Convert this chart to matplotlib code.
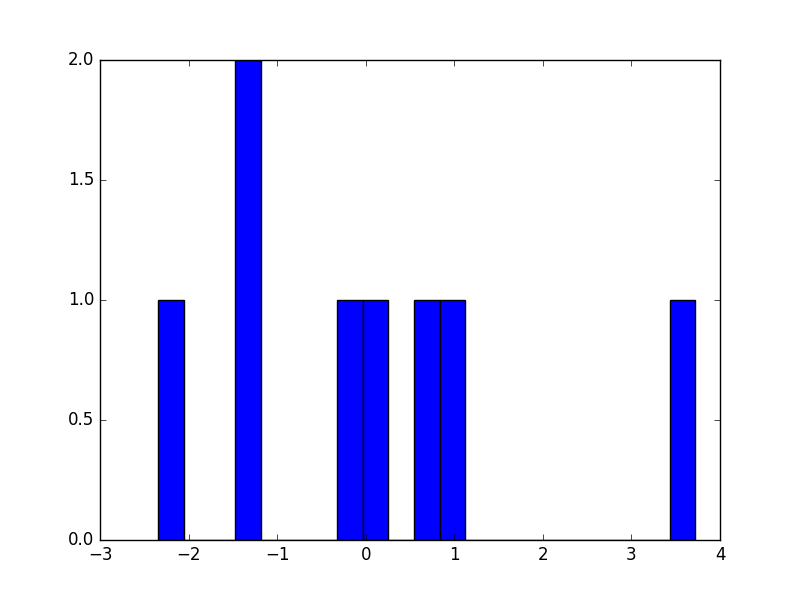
import matplotlib
matplotlib.use("Agg")
import matplotlib.pyplot as plt

# sample values (8 points, 21 bins)
values = [-2.342, -1.40, -1.25, -0.20, 0.10, 0.70, 0.95, 3.721]
n_bins = 21

plt.style.use('classic')

fig, ax = plt.subplots(figsize=(8, 6), dpi=100)
ax.hist(values, bins=n_bins, color='b', edgecolor='k')
ax.set_xlim(-3, 4)
ax.set_ylim(0, 2)

fig.savefig('out.png', dpi=100)
plt.close(fig)
